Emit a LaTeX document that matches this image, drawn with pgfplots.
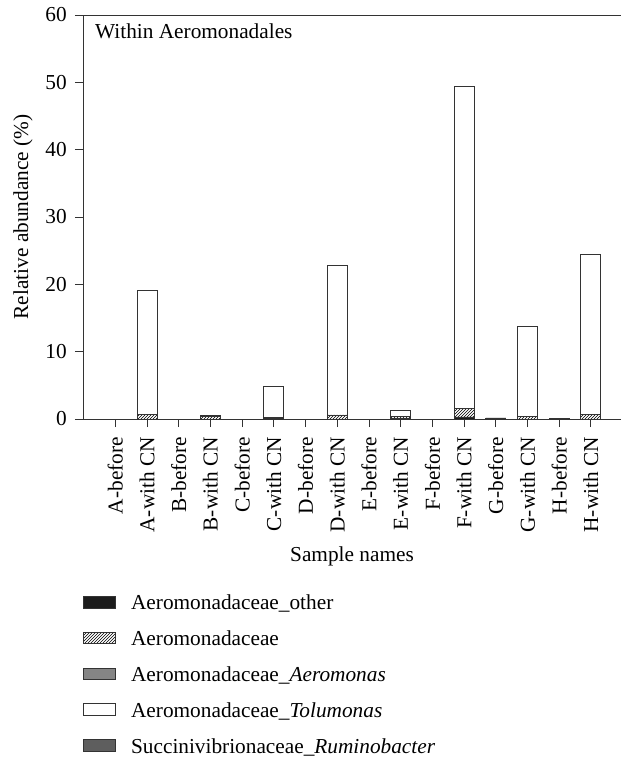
\documentclass[border=0pt]{standalone}
\usepackage{fontspec}
\setmainfont{Liberation Serif}
\usepackage{pgfplots}
\pgfplotsset{compat=1.18}
\usetikzlibrary{patterns}
\definecolor{cOther}{HTML}{1C1C1C}
\definecolor{cAero}{HTML}{858585}
\definecolor{cRum}{HTML}{5E5E5E}
\definecolor{cEdge}{HTML}{333333}
\pgfplotsset{mylegend/.style={legend image code/.code={\draw[##1] (0pt,-3pt) rectangle (32pt,8.5pt);}}}
\begin{document}
\begin{tikzpicture}[font=\fontsize{21.3}{25}\selectfont]
\path[use as bounding box] (-83pt,-342pt) rectangle (538pt,419pt);
\begin{axis}[
  at={(0pt,0pt)}, anchor=south west,
  scale only axis, width=538pt, height=404pt,
  ybar stacked, bar width=20pt,
  mylegend,
  xmin=-1.02, xmax=15.95, ymin=0, ymax=60,
  axis lines=left, axis line style={-, cEdge, line width=0.9pt},
  xtick={0,...,15},
  xticklabels={A-before,A-with CN,B-before,B-with CN,C-before,C-with CN,D-before,D-with CN,E-before,E-with CN,F-before,F-with CN,G-before,G-with CN,H-before,H-with CN},
  xticklabel style={rotate=90, anchor=east, inner sep=0pt, xshift=-10pt},
  ytick={0,10,...,60},
  yticklabel style={inner sep=0pt, xshift=-8pt},
  tick align=outside, major tick length=8pt,
  tick style={cEdge, line width=0.8pt},
  xtick pos=bottom, ytick pos=left,
  /pgf/number format/assume math mode=true,
  xlabel={Sample names},
  every axis x label/.style={at={(axis description cs:0.5,0)}, yshift=-137pt, anchor=center},
  ylabel={Relative abundance (\%)},
  every axis y label/.style={at={(axis description cs:0,0.5)}, xshift=-60pt, rotate=90, anchor=center},
  legend style={at={(0,-0.4375)}, anchor=north west, draw=none, inner sep=0pt,
    column sep=15pt, row sep=17.8pt, cells={anchor=west},
    nodes={inner sep=0pt, text height=14pt, text depth=4pt}},
  legend cell align=left,
]
\addplot[fill=cOther, draw=cEdge, line width=0.9pt] coordinates {
(0,0) (1,0) (2,0) (3,0) (4,0) (5,0.12) (6,0) (7,0) (8,0) (9,0.05) (10,0) (11,0.3) (12,0.15) (13,0) (14,0.12) (15,0)};
\addplot[pattern=north east lines, draw=cEdge, line width=0.9pt] coordinates {
(0,0) (1,0.7) (2,0) (3,0.45) (4,0) (5,0.05) (6,0) (7,0.6) (8,0) (9,0.35) (10,0) (11,1.2) (12,0) (13,0.4) (14,0) (15,0.7)};
\addplot[fill=cAero, draw=cEdge, line width=0.9pt] coordinates {
(0,0) (1,0) (2,0) (3,0) (4,0) (5,0) (6,0) (7,0) (8,0) (9,0) (10,0) (11,0) (12,0) (13,0) (14,0) (15,0)};
\addplot[fill=white, draw=cEdge, line width=0.9pt] coordinates {
(0,0) (1,18.4) (2,0) (3,0.05) (4,0) (5,4.65) (6,0) (7,22.2) (8,0) (9,0.8) (10,0) (11,47.9) (12,0) (13,13.4) (14,0) (15,23.8)};
\addplot[fill=cRum, draw=cEdge, line width=0.9pt] coordinates {
(0,0) (1,0) (2,0) (3,0) (4,0) (5,0) (6,0) (7,0) (8,0) (9,0) (10,0) (11,0) (12,0) (13,0) (14,0) (15,0)};
\legend{Aeromonadaceae\_other, Aeromonadaceae, Aeromonadaceae\_\textit{Aeromonas}, Aeromonadaceae\_\textit{Tolumonas}, Succinivibrionaceae\_\textit{Ruminobacter}}
\draw[cEdge, line width=0.9pt] (rel axis cs:0,1) -- (rel axis cs:1,1);
\node[anchor=base west, inner sep=0pt] at ([xshift=12pt,yshift=-23pt]rel axis cs:0,1) {Within Aeromonadales};
\end{axis}
\end{tikzpicture}
\end{document}
